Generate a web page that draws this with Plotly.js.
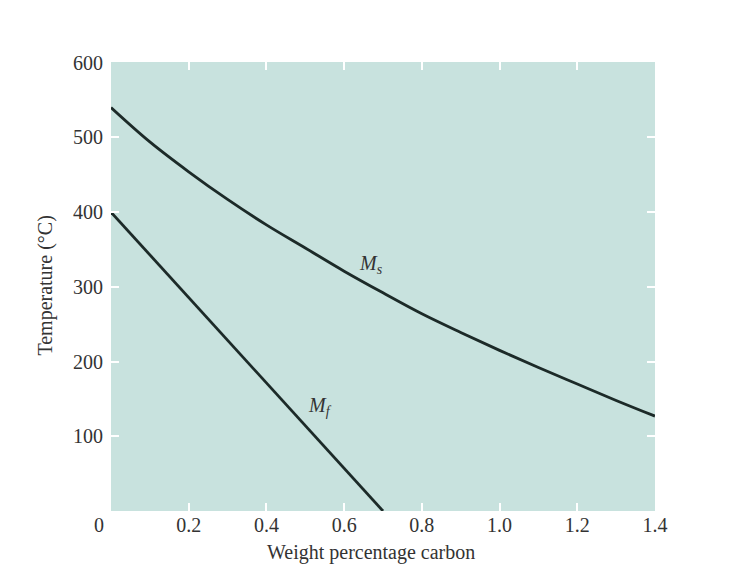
<!DOCTYPE html>
<html>
<head>
<meta charset="utf-8">
<script src="https://cdn.plot.ly/plotly-3.0.1.min.js"></script>
<style>html,body{margin:0;padding:0;background:#fff;}#chart{width:751px;height:579px;}</style>
</head>
<body>
<div id="chart"></div>
<script>
// Ms curve (martensite start)
const msCarbon = [0, 0.1, 0.2, 0.3, 0.4, 0.5, 0.6, 0.7, 0.8, 0.9, 1.0, 1.1, 1.2, 1.3, 1.4];
const msTemp   = [540, 494, 454, 417, 383, 352, 321, 292, 264, 239, 215, 192, 170, 148, 127];
// Mf line (martensite finish)
const mfCarbon = [0, 0.35, 0.70];
const mfTemp   = [400, 200, 0];

const xTickVals = [0, 0.2, 0.4, 0.6, 0.8, 1.0, 1.2, 1.4];
const xTickText = ['', '0.2', '0.4', '0.6', '0.8', '1.0', '1.2', '1.4'];
const yTickVals = [100, 200, 300, 400, 500, 600];

const font = {family: '"Liberation Serif", "Times New Roman", serif', color: '#333'};
const lineColor = '#1c2a28';
const fs = 20;

const traces = [
  {x: msCarbon, y: msTemp, mode: 'lines', line: {color: lineColor, width: 2.8, shape: 'spline', smoothing: 1}, hoverinfo: 'skip'},
  {x: mfCarbon, y: mfTemp, mode: 'lines', line: {color: lineColor, width: 2.8}, hoverinfo: 'skip'}
];

const layout = {
  width: 751, height: 579,
  margin: {l: 111, r: 96, t: 62, b: 68},
  paper_bgcolor: '#ffffff',
  plot_bgcolor: '#c8e2de',
  showlegend: false,
  font: Object.assign({size: fs}, font),
  xaxis: {
    range: [0, 1.4], tickvals: xTickVals, ticktext: xTickText,
    ticks: 'inside', ticklen: 8, tickwidth: 2, tickcolor: '#ffffff',
    mirror: 'ticks', showgrid: false, zeroline: false, showline: false,
    tickfont: Object.assign({size: fs}, font)
  },
  yaxis: {
    range: [0, 601], tickvals: yTickVals,
    ticks: 'inside', ticklen: 8, tickwidth: 2, tickcolor: '#ffffff',
    mirror: 'ticks', showgrid: false, zeroline: false, showline: false,
    ticklabelstandoff: 7,
    tickfont: Object.assign({size: fs}, font)
  },
  annotations: [
    {xref: 'paper', yref: 'paper', x: 0, y: 0, xanchor: 'center', yanchor: 'middle', xshift: -12, yshift: -14,
     text: '0', showarrow: false, font: Object.assign({size: fs}, font)},
    {xref: 'paper', yref: 'paper', x: 0.478, y: 0, xanchor: 'center', yanchor: 'middle', yshift: -41,
     text: 'Weight percentage carbon', showarrow: false, font: Object.assign({size: fs}, font)},
    {xref: 'paper', yref: 'paper', x: 0, y: 0.502, xanchor: 'center', yanchor: 'middle', xshift: -65,
     text: 'Temperature (°C)', textangle: -90, showarrow: false, font: Object.assign({size: fs}, font)},
    {xref: 'x', yref: 'y', x: 0.668, y: 330, text: '<i>M</i><sub><i>s</i></sub>', showarrow: false,
     font: Object.assign({size: fs}, font)},
    {xref: 'x', yref: 'y', x: 0.537, y: 140, text: '<i>M</i><sub><i>f</i></sub>', showarrow: false,
     font: Object.assign({size: fs}, font)}
  ]
};

Plotly.newPlot('chart', traces, layout, {displayModeBar: false, staticPlot: true});
</script>
</body>
</html>
